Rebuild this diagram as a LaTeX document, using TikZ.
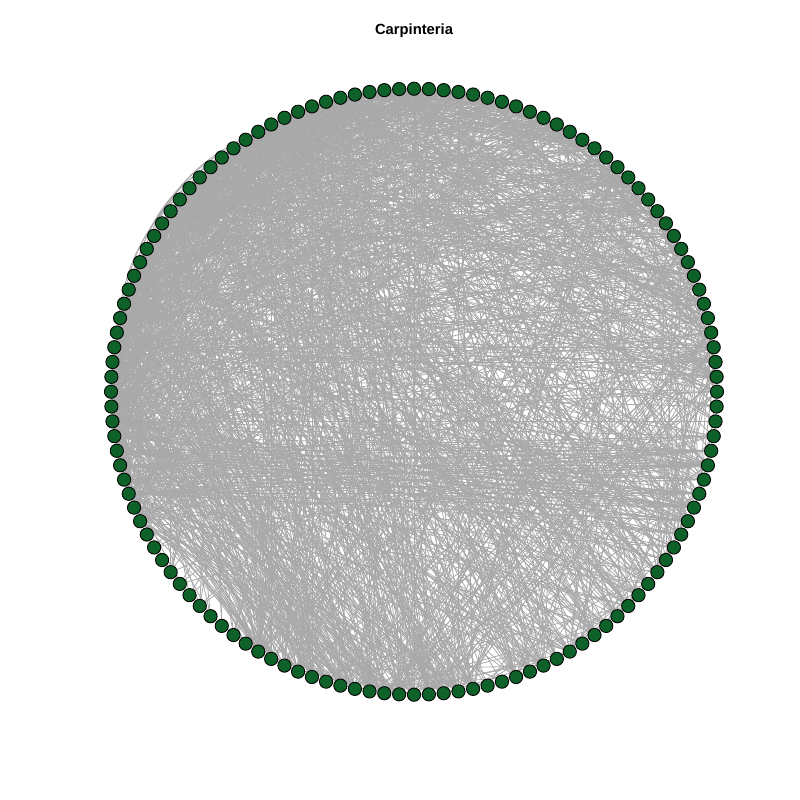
\documentclass[tikz,border=0pt]{standalone}
\usepackage{fontspec}
\setmainfont{Liberation Sans}
\usetikzlibrary{backgrounds}
\definecolor{vgreen}{HTML}{0E6128}
\definecolor{egray}{HTML}{A9A9A9}

\begin{document}
\begin{tikzpicture}[x=0.02cm,y=0.02cm,
  vert/.style={circle,draw=black,fill=vgreen,line width=0.5pt,minimum size=0.265cm,inner sep=0pt},
  edge/.style={draw=egray,line width=0.45pt}]
\useasboundingbox (0,0) rectangle (800,800);
\node[font=\bfseries\fontsize{8.4}{10}\selectfont] (title) at (414,769) {Carpinteria};
% the 128 taxa, counterclockwise from the right
\foreach \i in {1,...,128}
  \node[vert] (v\i) at ({414+303*cos((\i-1)*2.8125)},{408.3+303*sin((\i-1)*2.8125)}) {};
\begin{scope}[on background layer]
\pgfmathsetseed{4217}
\foreach \k in {1,...,1750}{
  \pgfmathrandominteger{\pp}{1}{100}
  \ifnum\pp<55 \pgfmathrandominteger{\src}{33}{74}\else
  \ifnum\pp<92 \pgfmathrandominteger{\src}{1}{66}\else
  \pgfmathrandominteger{\src}{1}{128}\fi\fi
  \pgfmathrandominteger{\qq}{1}{100}
  \ifnum\qq<20 \pgfmathrandominteger{\dst}{86}{101}\else
  \ifnum\qq<33 \pgfmathrandominteger{\dst}{104}{124}\else
  \ifnum\qq<75 \pgfmathrandominteger{\dst}{1}{70}\else
  \pgfmathrandominteger{\dst}{1}{128}\fi\fi\fi
  \ifnum\src=\dst\else\draw[edge] (v\src) -- (v\dst);\fi
}
% left-right bundle
\foreach \k in {1,...,70}{
  \pgfmathrandominteger{\src}{67}{72}
  \pgfmathrandominteger{\dst}{119}{126}
  \draw[edge] (v\src) -- (v\dst);
}
% mutual links, drawn curved
\foreach \s/\t in {45/56,46/58,47/57,48/60,44/55,49/61}
  \draw[edge] (v\s) to[bend right=22] (v\t);
\end{scope}
\end{tikzpicture}
\end{document}
